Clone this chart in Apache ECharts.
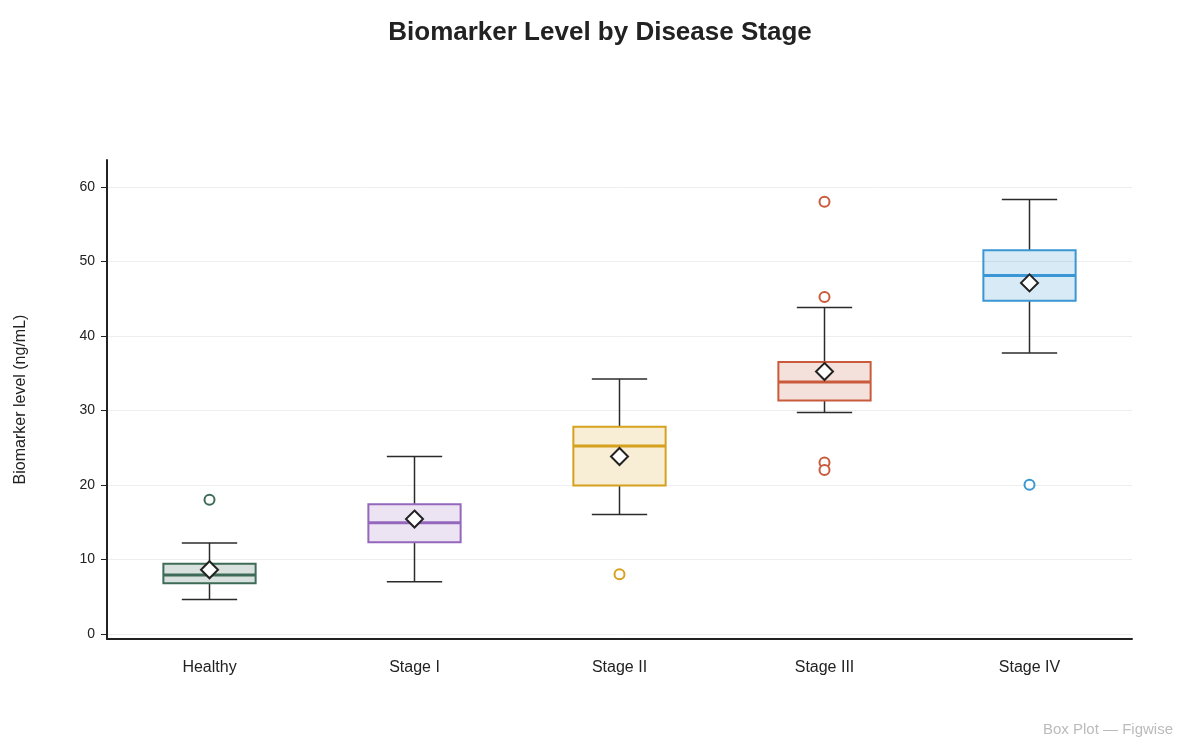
<!DOCTYPE html>
<html lang="en">
<head>
    <meta charset="UTF-8">
    <title>Biomarker Level by Disease Stage</title>
    <script src="https://cdn.jsdelivr.net/npm/echarts@6/dist/echarts.min.js"></script>
    <style>
        html, body { margin: 0; padding: 0; background: #fff; }
        #main { width: 1200px; height: 747px; }
    </style>
</head>
<body>
<div id="main"></div>
<script type="text/javascript">
    // data
    var stages = ['Healthy', 'Stage I', 'Stage II', 'Stage III', 'Stage IV'];
    var whiskerLow = [4.6, 7.0, 16.0, 29.7, 37.7];
    var q1 = [6.8, 12.3, 19.9, 31.3, 44.7];
    var median = [7.9, 14.9, 25.2, 33.8, 48.1];
    var q3 = [9.4, 17.4, 27.8, 36.5, 51.5];
    var whiskerHigh = [12.2, 23.8, 34.2, 43.8, 58.3];
    var means = [8.6, 15.4, 23.8, 35.2, 47.1];
    var outliers = [[0, 18.0], [2, 8.0], [3, 58.0], [3, 45.2], [3, 23.0], [3, 22.0], [4, 20.0]];
    var colors = ['#3e6b57', '#9467bd', '#d6a21e', '#c95b3c', '#3a97d4'];
    var fills = ['rgba(62,107,87,0.2)', 'rgba(148,103,189,0.18)', 'rgba(214,162,30,0.18)',
                 'rgba(201,91,60,0.18)', 'rgba(58,151,212,0.2)'];
    var yTicks = [0, 10, 20, 30, 40, 50, 60];

    var myChart = echarts.init(document.getElementById('main'));

    var boxData = [];
    for (var i = 0; i < stages.length; i++) {
        boxData.push([i, whiskerLow[i], q1[i], median[i], q3[i], whiskerHigh[i]]);
    }
    var meanData = [];
    for (var j = 0; j < stages.length; j++) {
        meanData.push([j, means[j]]);
    }
    var outlierData = [];
    for (var k = 0; k < outliers.length; k++) {
        outlierData.push({
            value: outliers[k],
            itemStyle: { borderColor: colors[outliers[k][0]] }
        });
    }

    function renderBox(params, api) {
        var idx = api.value(0);
        var bw = api.size([1, 0])[0];
        var half = bw * 0.225;
        var cap = bw * 0.135;
        var x = api.coord([idx, 0])[0];
        var yLow = api.coord([idx, api.value(1)])[1];
        var yQ1 = api.coord([idx, api.value(2)])[1];
        var yMed = api.coord([idx, api.value(3)])[1];
        var yQ3 = api.coord([idx, api.value(4)])[1];
        var yHigh = api.coord([idx, api.value(5)])[1];
        var dark = '#2b2b2b';
        return {
            type: 'group',
            children: [
                { type: 'line', shape: { x1: x, y1: yQ3, x2: x, y2: yHigh }, style: { stroke: dark, lineWidth: 1.5 } },
                { type: 'line', shape: { x1: x, y1: yQ1, x2: x, y2: yLow }, style: { stroke: dark, lineWidth: 1.5 } },
                { type: 'line', shape: { x1: x - cap, y1: yHigh, x2: x + cap, y2: yHigh }, style: { stroke: dark, lineWidth: 1.5 } },
                { type: 'line', shape: { x1: x - cap, y1: yLow, x2: x + cap, y2: yLow }, style: { stroke: dark, lineWidth: 1.5 } },
                { type: 'rect', shape: { x: x - half, y: yQ3, width: half * 2, height: yQ1 - yQ3 },
                  style: { fill: fills[idx], stroke: colors[idx], lineWidth: 2 } },
                { type: 'line', shape: { x1: x - half, y1: yMed, x2: x + half, y2: yMed },
                  style: { stroke: colors[idx], lineWidth: 3 } }
            ]
        };
    }

    myChart.setOption({
        animation: false,
        textStyle: { fontFamily: 'Liberation Sans, Arial, sans-serif' },
        title: [{
            text: 'Biomarker Level by Disease Stage',
            left: 'center',
            top: 15,
            textStyle: { fontSize: 26, fontWeight: 'bold', color: '#222' }
        }, {
            text: 'Box Plot — Figwise',
            right: 22,
            bottom: 5,
            textStyle: { fontSize: 15, fontWeight: 'normal', color: '#bbbbbb' }
        }],
        grid: { left: 107, right: 68, top: 160, bottom: 108 },
        xAxis: {
            type: 'category',
            data: stages,
            boundaryGap: true,
            axisLine: { onZero: false, lineStyle: { color: '#222', width: 2 } },
            axisTick: { show: false },
            axisLabel: { fontSize: 16, color: '#222', margin: 21 },
            splitLine: { show: false }
        },
        yAxis: {
            type: 'value',
            min: -0.7,
            max: 63.6,
            name: 'Biomarker level (ng/mL)',
            nameLocation: 'middle',
            nameGap: 78,
            nameTextStyle: { fontSize: 16, color: '#222' },
            axisLine: { show: true, lineStyle: { color: '#222', width: 2 } },
            axisTick: { show: true, length: 6, customValues: yTicks, lineStyle: { color: '#222' } },
            axisLabel: { fontSize: 14, color: '#222', margin: 12, customValues: yTicks },
            splitLine: { show: true, lineStyle: { color: '#eeeeee', width: 1 } }
        },
        series: [{
            type: 'custom',
            renderItem: renderBox,
            data: boxData,
            encode: { x: 0, y: [1, 2, 3, 4, 5] },
            z: 2
        }, {
            type: 'scatter',
            data: outlierData,
            symbol: 'circle',
            symbolSize: 10,
            itemStyle: { color: '#fff', borderWidth: 2, opacity: 1 },
            z: 3
        }, {
            type: 'scatter',
            data: meanData,
            symbol: 'diamond',
            symbolSize: 17,
            itemStyle: { color: '#fff', borderColor: '#222', borderWidth: 2, opacity: 1 },
            z: 4
        }]
    });
</script>
</body>
</html>
